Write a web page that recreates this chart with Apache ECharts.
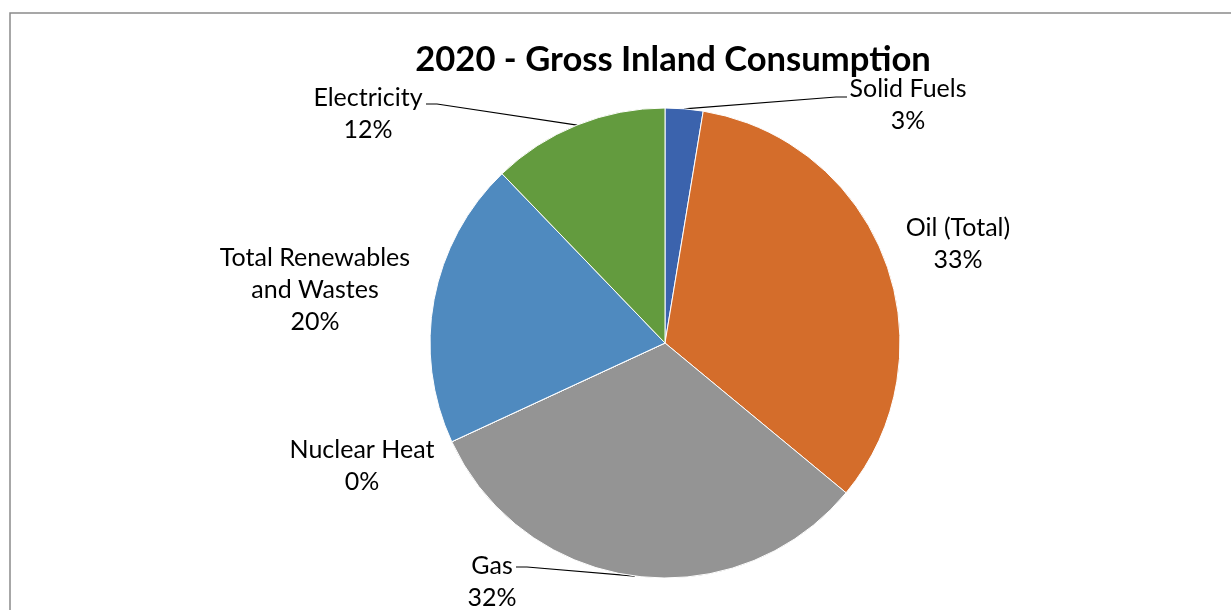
<!DOCTYPE html>
<html>
<head>
<meta charset="utf-8">
<title>2020 - Gross Inland Consumption</title>
<script src="https://cdn.jsdelivr.net/npm/echarts@6/dist/echarts.min.js"></script>
<style>
  html, body { margin: 0; padding: 0; background: #fff; }
  #chart { width: 1231px; height: 610px; }
</style>
</head>
<body>
<div id="chart"></div>
<script>
// Gross inland consumption shares, 2020 (percent)
const categories = ['Solid Fuels', 'Oil (Total)', 'Gas', 'Nuclear Heat', 'Total Renewables\nand Wastes', 'Electricity'];
const shares = [2.6, 33.4, 32.1, 0, 19.7, 12.2];
const sliceColors = ['#3b63ad', '#d46d2b', '#949494', '#ffc000', '#4f8abf', '#639b3e'];

// Label placement: centre of each label block and, where a leader line is
// drawn, the elbow and end of the line next to the text.
const labelPlacement = [
  { x: 908, y: 105, line: [[836, 97], [847, 97]] },
  { x: 958, y: 244, line: null },
  { x: 492, y: 582, line: [[527, 567], [516, 567]] },
  { x: 362, y: 466, line: null },
  { x: 315, y: 290, line: null },
  { x: 368, y: 114, line: [[437, 104], [426, 104]] }
];

const FONT = 'Lato, "Open Sans", sans-serif';

const seriesData = categories.map((name, i) => ({
  name: name,
  value: shares[i],
  itemStyle: { color: sliceColors[i] },
  labelLine: { show: !!labelPlacement[i].line }
}));

const chart = echarts.init(document.getElementById('chart'), null, { renderer: 'canvas' });

chart.setOption({
  animation: false,
  backgroundColor: '#ffffff',
  title: {
    text: '2020 - Gross Inland Consumption',
    left: 668,
    top: 37,
    textAlign: 'center',
    textStyle: {
      fontFamily: FONT,
      fontWeight: 'bold',
      fontSize: 34.6,
      color: '#000000'
    }
  },
  graphic: [{
    type: 'rect',
    silent: true,
    shape: { x: 10, y: 13, width: 1300, height: 700 },
    style: { fill: 'none', stroke: '#8a8a8a', lineWidth: 1.5 }
  }],
  series: [{
    type: 'pie',
    center: [665, 343],
    radius: 235,
    startAngle: 90,
    clockwise: true,
    avoidLabelOverlap: false,
    itemStyle: { borderColor: '#ffffff', borderWidth: 1 },
    label: {
      show: true,
      position: 'outside',
      fontFamily: FONT,
      fontSize: 25,
      lineHeight: 32,
      color: '#000000',
      align: 'center',
      formatter: p => p.name + '\n' + Math.round(p.percent) + '%'
    },
    labelLine: {
      show: true,
      length: 20,
      length2: 20,
      lineStyle: { color: '#000000', width: 1.2 }
    },
    labelLayout: function (params) {
      const spot = labelPlacement[params.dataIndex];
      const out = { x: spot.x, y: spot.y, align: 'center', verticalAlign: 'middle' };
      if (spot.line && params.labelLinePoints) {
        out.labelLinePoints = [params.labelLinePoints[0], spot.line[0], spot.line[1]];
      }
      return out;
    },
    data: seriesData
  }]
});
</script>
</body>
</html>
